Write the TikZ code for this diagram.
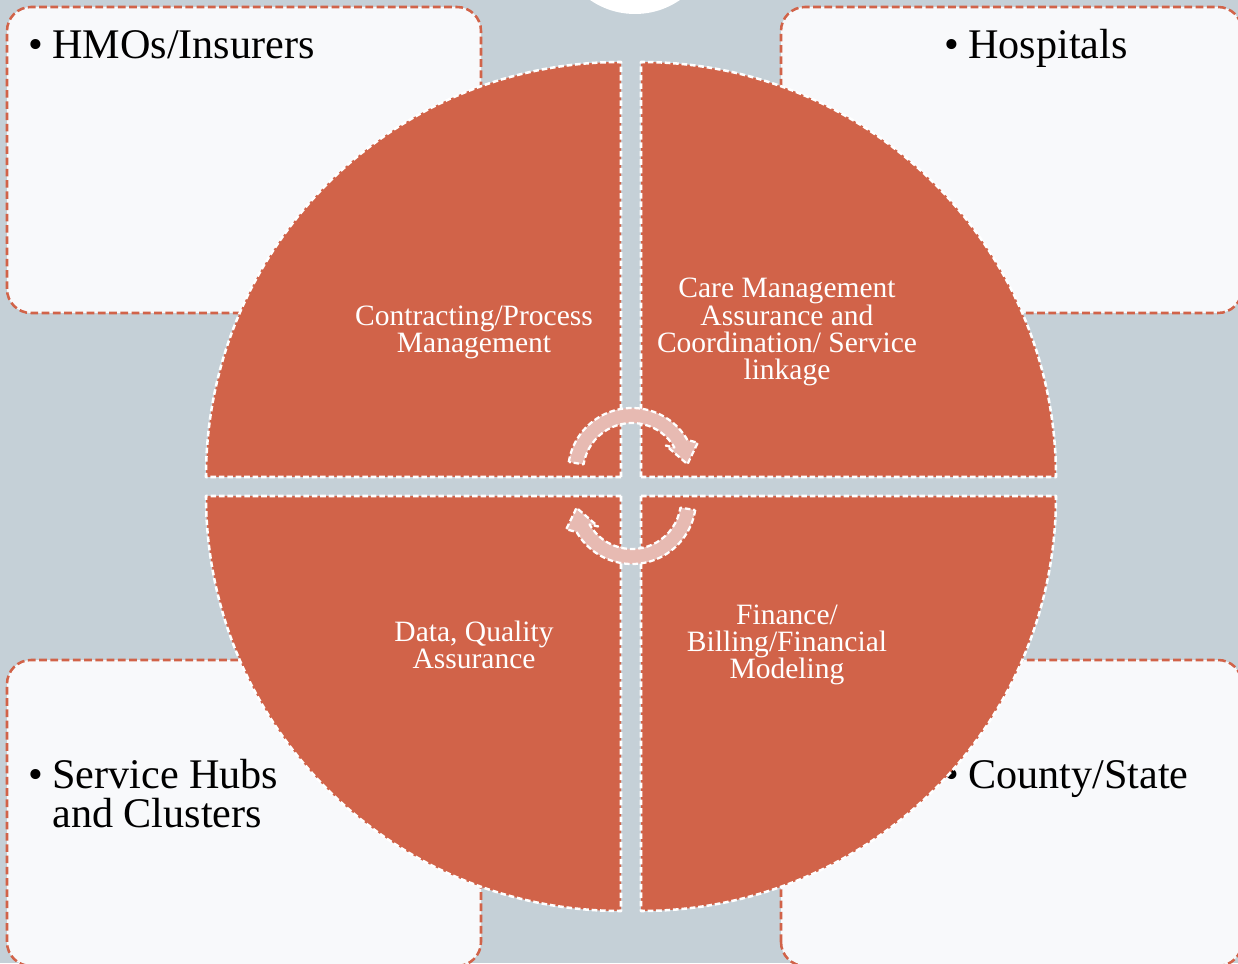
\documentclass[tikz,border=0pt]{standalone}
\usepackage{fontspec}
\setmainfont{Liberation Serif}
\definecolor{bgblue}{HTML}{C5D0D7}
\definecolor{rust}{HTML}{D16349}
\definecolor{paper}{HTML}{F8F9FB}
\definecolor{blush}{HTML}{E7BAB2}
\begin{document}
\begin{tikzpicture}[x=0.025cm, y=0.025cm, line join=round,
	card/.style={fill=paper, draw=rust, line width=1.8pt, dash pattern=on 5.5pt off 2.5pt, rounded corners=0.6cm},
	slice/.style={fill=rust, draw=white, line width=1.8pt, dash pattern=on 4pt off 2pt},
	spin/.style={fill=blush, draw=white, line width=1.6pt, dash pattern=on 4pt off 2pt},
	item/.style={anchor=base west, inner sep=0pt, font=\fontsize{30}{28.5}\selectfont},
	bul/.style={anchor=base, inner sep=0pt, font=\fontsize{30}{28.5}\selectfont},
	stage/.style={text=white, align=center, inner sep=0pt, font=\fontsize{21}{19.3}\selectfont}]
	\useasboundingbox (0,0) rectangle (1238,963);
	\clip (0,0) rectangle (1238,963);
	\fill[bgblue] (0,0) rectangle (1238,963);
	\fill[white] (635,1028) circle[radius=79];
	\draw[card] (7,650) rectangle (481,956);
	\draw[card] (781,650) rectangle (1242,956);
	\draw[card] (7,-3) rectangle (481,303);
	\draw[card] (781,-3) rectangle (1242,303);
	\node[bul] (b1) at (36,904) {\textbullet};
	\node[item] (hmo) at (52,904) {HMOs/Insurers};
	\node[bul] (b2) at (952,904) {\textbullet};
	\node[item] (hosp) at (968,904) {Hospitals};
	\node[bul] (b3) at (36,175) {\textbullet};
	\node[item] (hubs) at (52,175) {Service Hubs};
	\node[item] (clusters) at (52,136) {and Clusters};
	\node[bul] (b4) at (952,175) {\textbullet};
	\node[item] (county) at (968,175) {County/State};
	\draw[slice] (621,486) -- (206,486) arc[start angle=180, end angle=90, radius=415] -- cycle;
	\draw[slice] (641,486) -- (641,901) arc[start angle=90, end angle=0, radius=415] -- cycle;
	\draw[slice] (621,467) -- (621,52) arc[start angle=270, end angle=180, radius=415] -- cycle;
	\draw[slice] (641,467) -- (1056,467) arc[start angle=0, end angle=-90, radius=415] -- cycle;
	\node[stage] (contract) at (474,631) {Contracting/Process\\Management};
	\node[stage] (care) at (787,631) {Care Management\\Assurance and\\Coordination/ Service\\linkage};
	\node[stage] (data) at (474,318) {Data, Quality\\Assurance};
	\node[stage] (finance) at (787,318) {Finance/\\Billing/Financial\\Modeling};
	\draw[spin, shift={(632,491)}] (171:64) arc[start angle=171, end angle=30, radius=64] -- (24:72) -- (8:56) -- (38:43) -- (30:49) arc[start angle=30, end angle=171, radius=49] -- cycle;
	\draw[spin, shift={(632,463)}, rotate=180] (171:64) arc[start angle=171, end angle=30, radius=64] -- (24:72) -- (8:56) -- (38:43) -- (30:49) arc[start angle=30, end angle=171, radius=49] -- cycle;
\end{tikzpicture}
\end{document}
